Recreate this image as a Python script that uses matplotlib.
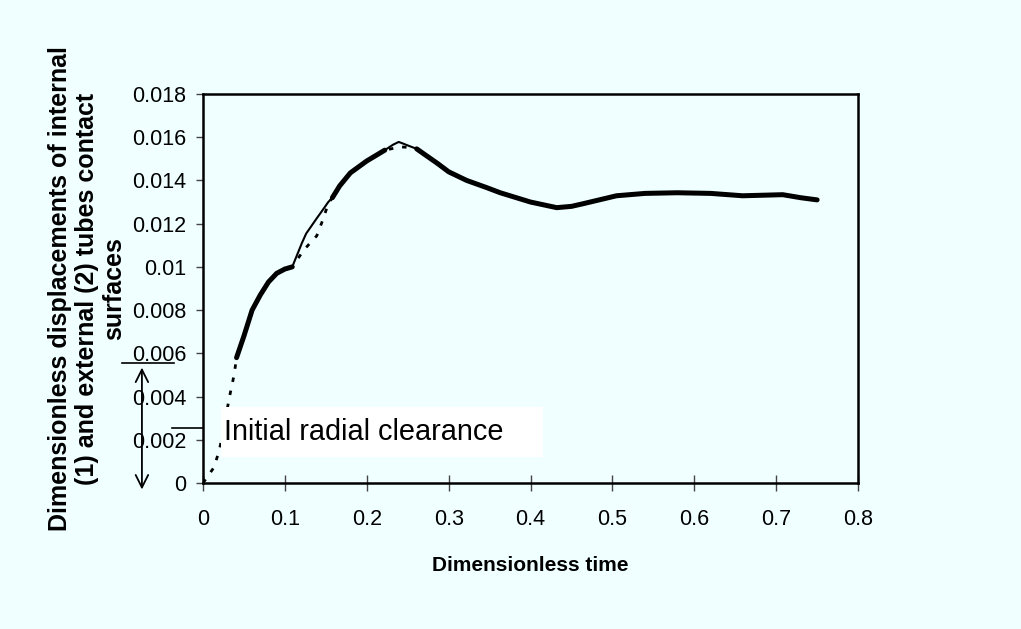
import numpy as np
import matplotlib
matplotlib.use("Agg")
import matplotlib.pyplot as plt
from matplotlib.patches import Rectangle
from matplotlib import transforms

# ---------------- data ----------------
time = [0.0, 0.013, 0.02, 0.033, 0.038, 0.041, 0.05, 0.06, 0.07, 0.08, 0.09, 0.1,
        0.109, 0.121, 0.126, 0.139, 0.146, 0.153, 0.158, 0.167, 0.18, 0.2, 0.222,
        0.232, 0.239, 0.242, 0.25, 0.261, 0.287, 0.30, 0.322, 0.347, 0.363, 0.40,
        0.432, 0.45, 0.464, 0.505, 0.54, 0.579, 0.62, 0.659, 0.708, 0.73, 0.75]

disp_external = [0.0, 0.0007, 0.0015, 0.0041, 0.0050, 0.0058, 0.0068, 0.0080, 0.0087,
                 0.0093, 0.0097, 0.0099, 0.0100, 0.01066, 0.0109, 0.01144, 0.01214,
                 0.01292, 0.0132, 0.01375, 0.01435, 0.0149, 0.0154, 0.01548, 0.01553,
                 0.01555, 0.01553, 0.01546, 0.01477, 0.0144, 0.0140, 0.01366, 0.01343,
                 0.0130, 0.01274, 0.0128, 0.01292, 0.01329, 0.0134, 0.01343, 0.0134,
                 0.01329, 0.01334, 0.0132, 0.0131]

disp_internal = [np.nan, np.nan, np.nan, np.nan, np.nan, 0.0058, 0.0068, 0.0080, 0.0087,
                 0.0093, 0.0097, 0.0099, 0.0100, 0.01112, 0.01154, 0.01225, 0.01262,
                 0.0130, 0.0132, 0.01375, 0.01435, 0.0149, 0.0154, 0.01565, 0.01578,
                 0.01574, 0.01562, 0.01546, 0.01477, 0.0144, 0.0140, 0.01366, 0.01343,
                 0.0130, 0.01274, 0.0128, 0.01292, 0.01329, 0.0134, 0.01343, 0.0134,
                 0.01329, 0.01334, 0.0132, 0.0131]

x_ticks = [0, 0.1, 0.2, 0.3, 0.4, 0.5, 0.6, 0.7, 0.8]
x_tick_labels = ["0", "0.1", "0.2", "0.3", "0.4", "0.5", "0.6", "0.7", "0.8"]
y_ticks = [0, 0.002, 0.004, 0.006, 0.008, 0.01, 0.012, 0.014, 0.016, 0.018]
y_tick_labels = ["0", "0.002", "0.004", "0.006", "0.008", "0.01", "0.012", "0.014",
                 "0.016", "0.018"]

clearance_top = 0.00554
clearance_bottom = 0.00254

# ---------------- figure ----------------
plt.rcParams['font.family'] = ['Liberation Sans', 'DejaVu Sans']
BG = '#F0FFFF'
fig = plt.figure(figsize=(10.21, 6.29), dpi=100, facecolor=BG)
ax = fig.add_axes([0.1988, 0.2321, 0.6416, 0.6185])
ax.set_facecolor(BG)

t = np.array(time)
de = np.array(disp_external)
di = np.array(disp_internal)

ax.plot(t, de, color='black', lw=2.0, linestyle=(0, (1.6, 3.2)), zorder=3)
ax.plot(t, di, color='black', lw=1.5, solid_capstyle='round', zorder=3)
overlap = np.where(np.isclose(di, de, atol=2e-6), de, np.nan)
ax.plot(t, overlap, color='black', lw=3.6, solid_capstyle='round',
        solid_joinstyle='round', zorder=4)

ax.set_xlim(0, 0.8)
ax.set_ylim(0, 0.018)
ax.set_xticks(x_ticks)
ax.set_xticklabels(x_tick_labels)
ax.set_yticks(y_ticks)
ax.set_yticklabels(y_tick_labels)
ax.tick_params(axis='x', direction='inout', length=12, width=1, color='#444444',
               labelsize=15.5, pad=13)
ax.tick_params(axis='y', direction='out', length=5, width=1, color='#444444',
               labelsize=15.5, pad=7)
for s in ax.spines.values():
    s.set_linewidth(1.8)
    s.set_color('black')

ax.set_xlabel("Dimensionless time", fontsize=15, fontweight='bold')
ax.xaxis.set_label_coords(0.5, -0.211)
ax.xaxis.label.set_va('center')

ax.set_ylabel("Dimensionless displacements of internal\n"
              "(1) and external (2) tubes contact\nsurfaces",
              fontsize=18, fontweight='bold', linespacing=1.15,
              multialignment='center')
ax.yaxis.set_label_coords(-0.177, 0.5)
ax.yaxis.label.set_va('center')

# text box
ax.add_patch(Rectangle((0.022, 0.0012), 0.393, 0.0023, facecolor='white',
                       edgecolor='none', zorder=5, clip_on=False))
ax.text(0.026, 0.00237, "Initial radial clearance", fontsize=20.8, va='center',
        ha='left', zorder=6)

# clearance marks outside the axes
trans = transforms.blended_transform_factory(fig.transFigure, ax.transData)
ax.plot([0.1195, 0.1704], [clearance_top, clearance_top], color='black', lw=1.2,
        transform=trans, clip_on=False)
ax.plot([0.1685, 0.1988], [clearance_bottom, clearance_bottom], color='black', lw=1.2,
        transform=trans, clip_on=False)
ax.annotate("", xy=(0.139, -0.0003), xytext=(0.139, clearance_top - 0.0002),
            xycoords=trans, textcoords=trans,
            arrowprops=dict(arrowstyle='<->,head_length=0.9,head_width=0.45',
                            color='black', lw=1.3, shrinkA=0, shrinkB=0),
            annotation_clip=False)

fig.savefig("out.png", dpi=100, facecolor=BG)
